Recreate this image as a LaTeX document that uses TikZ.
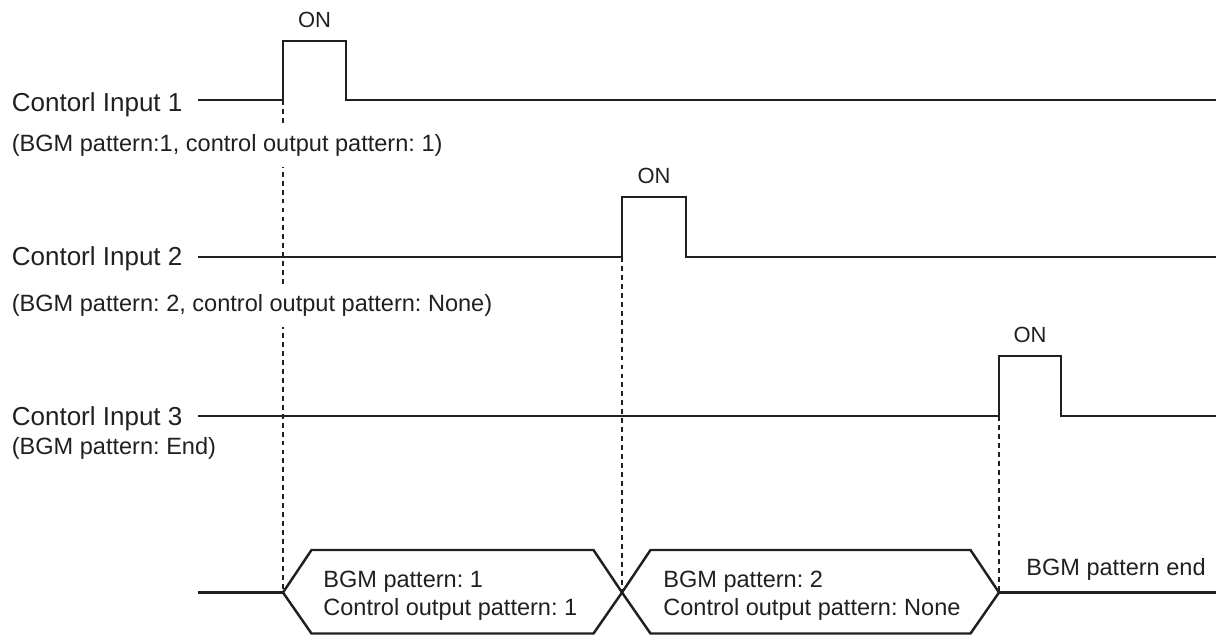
\documentclass[tikz,border=0pt]{standalone}
\usepackage{fontspec}
\setmainfont{Liberation Sans}
\usepackage{tikz}
\usetikzlibrary{positioning, calc, backgrounds}
\frenchspacing
\definecolor{ink}{HTML}{231F20}
\tikzset{
    siglabel/.style={anchor=base west, inner sep=0pt, font=\fontsize{14.8}{17}\selectfont, text=ink},
    sublabel/.style={anchor=base west, inner xsep=0pt, inner ysep=6pt, fill=white, font=\fontsize{13.4}{16}\selectfont, text=ink},
    onlabel/.style={above=7pt, inner sep=0pt, font=\fontsize{12.5}{15}\selectfont, text=ink},
    patlabel/.style={anchor=west, inner sep=0pt, align=left, font=\fontsize{13.4}{15.9}\selectfont, text=ink},
    wave/.style={draw=ink, line width=1.4pt},
    guide/.style={draw=ink, line width=0.7pt, dash pattern=on 2.8pt off 2.3pt}
}

\begin{document}
\begin{tikzpicture}
    \useasboundingbox (0,0) rectangle (24.32,12.7);

    % signal start points and rising edges
    \coordinate (s1) at (3.96,10.70);
    \coordinate (s2) at (3.96,7.56);
    \coordinate (s3) at (3.96,4.38);
    \coordinate (bus) at (3.96,0.85);
    \coordinate (r1) at (5.66,10.70);
    \coordinate (r2) at (12.44,7.56);
    \coordinate (r3) at (19.98,4.38);

    \node[siglabel] (lab1) at (0.23,10.46) {Contorl Input 1};
    \node[siglabel] (lab2) at (0.23,7.38) {Contorl Input 2};
    \node[siglabel] (lab3) at (0.23,4.18) {Contorl Input 3};

    \node[sublabel] (sub1) at (0.23,9.67) {(BGM pattern:1, control output pattern: 1)};
    \node[sublabel] (sub2) at (0.23,6.46) {(BGM pattern: 2, control output pattern: None)};
    \node[sublabel, fill=none] (sub3) at (0.23,3.60) {(BGM pattern: End)};

    % inputs
    \draw[wave] (s1) -- (r1) -- (5.66,11.88) -- node[onlabel] (on1) {ON} (6.92,11.88) -- (6.92,10.70) -- (24.32,10.70);
    \draw[wave] (s2) -- (r2) -- (12.44,8.76) -- node[onlabel] (on2) {ON} (13.72,8.76) -- (13.72,7.56) -- (24.32,7.56);
    \draw[wave] (s3) -- (r3) -- (19.98,5.58) -- node[onlabel] (on3) {ON} (21.22,5.58) -- (21.22,4.38) -- (24.32,4.38);

    % pattern bus
    \draw[wave] (bus) -- (r1 |- bus);
    \draw[wave] (r1 |- bus) -- (6.23,1.70) -- (11.87,1.70) -- (r2 |- bus) -- (11.87,0.03) -- (6.23,0.03) -- cycle;
    \draw[wave] (r2 |- bus) -- (13.01,1.70) -- (19.41,1.70) -- (r3 |- bus) -- (19.41,0.03) -- (13.01,0.03) -- cycle;
    \draw[wave] (r3 |- bus) -- (24.32,0.85);

    \node[patlabel] (pat1) at (6.46,0.78) {BGM pattern: 1\\Control output pattern: 1};
    \node[patlabel] (pat2) at (13.26,0.78) {BGM pattern: 2\\Control output pattern: None};
    \node[patlabel, anchor=base west] (patend) at (20.52,1.18) {BGM pattern end};

    \begin{scope}[on background layer]
        \draw[guide] (r1) -- (r1 |- bus);
        \draw[guide] (r2) -- (r2 |- bus);
        \draw[guide] (r3) -- (r3 |- bus);
    \end{scope}
\end{tikzpicture}
\end{document}
